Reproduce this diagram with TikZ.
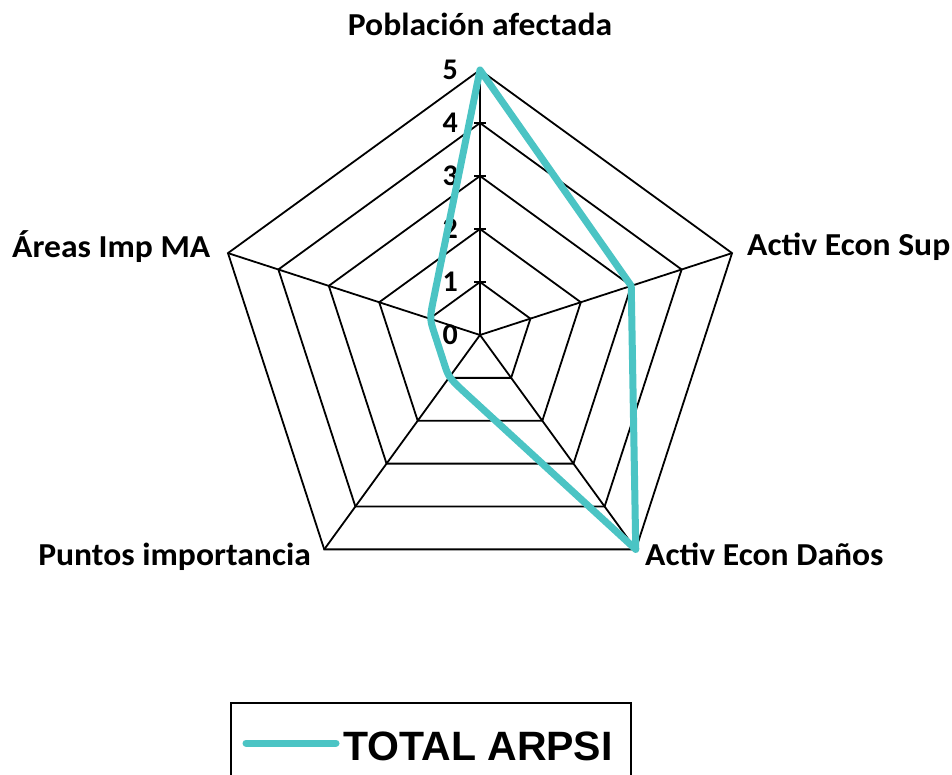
\documentclass[tikz,border=0pt]{standalone}
\usepackage{fontspec}
\usetikzlibrary{calc}
\setmainfont{Carlito}
\newfontfamily\legfont{Liberation Sans}
\definecolor{serie}{RGB}{75,196,196}
\begin{document}
\begin{tikzpicture}[x=1pt,y=-1pt,
  grid/.style={line width=1.8pt,black},
  dataline/.style={line width=7pt,color=serie,line join=round,line cap=round},
  lab/.style={font=\bfseries\fontsize{32}{36}\selectfont,inner sep=0pt,xscale=1.05,transform shape},
  num/.style={font=\bfseries\fontsize{30}{34}\selectfont,inner sep=0pt,anchor=east}]
\useasboundingbox (0,0) rectangle (952,775);
\fill[white] (0,0) rectangle (952,775);
\coordinate (O) at (480,335);
% grid pentagons
\foreach \i in {1,...,5}{
  \pgfmathsetmacro{\r}{53*\i}
  \draw[grid,shift={(O)}] (-90:\r) -- (-18:\r) -- (54:\r) -- (126:\r) -- (198:\r) -- cycle;
}
% spokes
\foreach \a in {-90,-18,54,126,198}{
  \draw[grid,shift={(O)}] (0,0) -- (\a:265);
}
% ticks
\foreach \i in {1,...,4}{
  \draw[grid] ($(O)+(-6,-53*\i)$) -- ++(12,0);
}
% numbers
\foreach \i in {0,...,5}{
  \node[num] (n\i) at ($(O)+(-22,-53*\i)$) {\i};
}
% data
\coordinate (p1) at ($(O)+(-90:265)$);
\coordinate (p2) at ($(O)+(-18:159)$);
\coordinate (p3) at ($(O)+(54:265)$);
\coordinate (p4) at ($(O)+(126:53)$);
\coordinate (p5) at ($(O)+(198:53)$);
\coordinate (a4) at ($(p4)!30pt!(p3)$);
\coordinate (b4) at ($(p4)!14pt!(p5)$);
\coordinate (a5) at ($(p5)!16pt!(p4)$);
\coordinate (b5) at ($(p5)!22pt!(p1)$);
\draw[dataline] (p1) -- (p2) -- (p3) -- (a4) .. controls (p4) .. (b4) -- (a5) .. controls (p5) .. (b5) -- cycle;
% labels
\node[lab,anchor=base] (l1) at (480,36) {Población afectada};
\node[lab,anchor=base west] (l2) at (747,256) {Activ Econ Sup};
\node[lab,anchor=base west] (l3) at (645,565) {Activ Econ Daños};
\node[lab,anchor=base east] (l4) at (311,565) {Puntos importancia};
\node[lab,anchor=base west] (l5) at (12,258) {Áreas Imp MA};
% legend
\draw[line width=2.5pt] (231,790) -- (231,703) -- (631,703) -- (631,790);
\coordinate (la) at (246,743);
\coordinate (lb) at (336,743);
\draw[line width=7pt,serie,line cap=round] (la) -- (lb);
\node[inner sep=0pt,anchor=base west,font=\legfont\bfseries\fontsize{41}{48}\selectfont] (leg) at (343,760) {TOTAL ARPSI};
\end{tikzpicture}
\end{document}
